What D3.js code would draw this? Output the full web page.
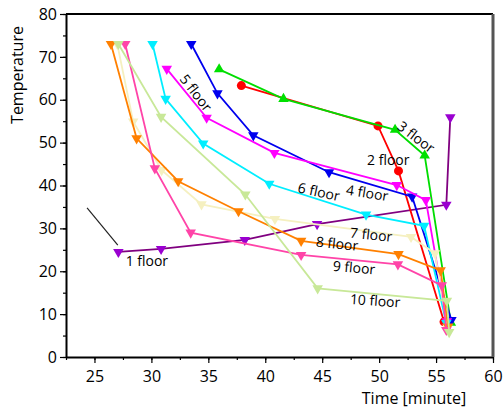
<!DOCTYPE html>
<html>
<head>
<meta charset="utf-8">
<script src="https://cdn.jsdelivr.net/npm/d3@7"></script>
<style>
  body { margin: 0; background: #fff; }
  text { font-family: "Open Sans", "Noto Sans", sans-serif; }
</style>
</head>
<body>
<div id="chart"></div>
<script>
// series data: time [minute] and temperature
var floor1Time = [27.1, 30.85, 38.2, 44.55, 55.9, 56.25];
var floor1Temp = [24.5, 25.2, 27.3, 31.0, 35.5, 55.9];
var floor2Time = [37.9, 49.9, 51.7, 55.7];
var floor2Temp = [63.3, 53.9, 43.4, 8.2];
var floor3Time = [35.95, 41.6, 51.4, 54.0, 56.3];
var floor3Temp = [67.1, 60.2, 53.0, 47.0, 8.0];
var floor4Time = [33.5, 35.8, 38.95, 45.6, 52.9, 56.35];
var floor4Temp = [73.0, 61.5, 51.7, 43.1, 37.4, 8.6];
var floor5Time = [31.35, 34.85, 40.8, 51.55, 54.1, 55.95];
var floor5Temp = [67.2, 55.8, 47.6, 40.1, 36.6, 8.3];
var floor6Time = [30.1, 31.25, 34.55, 40.35, 48.85, 53.95, 55.9];
var floor6Temp = [73.0, 60.2, 49.8, 40.4, 33.2, 30.6, 7.9];
var floor7Time = [27.0, 28.4, 30.9, 34.4, 40.85, 52.8, 54.9, 56.0];
var floor7Temp = [73.0, 54.9, 43.6, 35.6, 32.2, 28.0, 24.2, 6.9];
var floor8Time = [26.45, 28.7, 32.35, 37.65, 43.15, 51.7, 55.4, 56.05];
var floor8Temp = [73.0, 51.0, 41.0, 34.0, 27.1, 24.0, 20.2, 7.1];
var floor9Time = [27.7, 30.3, 33.45, 43.15, 51.65, 55.5, 55.9];
var floor9Temp = [73.0, 44.0, 29.0, 23.8, 21.6, 16.7, 6.3];
var floor10Time = [27.1, 30.85, 38.25, 44.6, 55.95, 56.15];
var floor10Temp = [73.0, 56.0, 37.9, 16.0, 13.1, 5.8];

var seriesNames = ["1 floor", "2 floor", "3 floor", "4 floor", "5 floor",
                   "6 floor", "7 floor", "8 floor", "9 floor", "10 floor"];
var seriesTimes = [floor1Time, floor2Time, floor3Time, floor4Time, floor5Time,
                   floor6Time, floor7Time, floor8Time, floor9Time, floor10Time];
var seriesTemps = [floor1Temp, floor2Temp, floor3Temp, floor4Temp, floor5Temp,
                   floor6Temp, floor7Temp, floor8Temp, floor9Temp, floor10Temp];
var lineColors = ["#800080", "#ff0000", "#00dd00", "#0000ee", "#ff00ff",
                  "#00eeff", "#f5f0c0", "#ff8000", "#ff44a8", "#c8e898"];
var markColors = ["#9a00d0", "#ff0000", "#00e000", "#0000ee", "#ff00ff",
                  "#00eeff", "#f5f0c0", "#ff8000", "#ff44a8", "#c8e898"];
var markShapes = ["down", "circle", "up", "down", "down",
                  "down", "down", "down", "down", "down"];

// in-chart labels: position in data units, rotation in degrees
var labelTime = [29.6, 50.8, 53.25, 48.95, 33.9, 44.7, 49.3, 46.3, 47.8, 49.65];
var labelTemp = [22.3, 45.9, 51.3, 38.25, 61.6, 38.5, 28.5, 26.4, 20.8, 13.1];
var labelAngle = [0, 0, 37, 9, 52, 12, 6, 6, 5, 4];

// the little black pointer line next to the 1 floor curve
var pointerTime = [24.35, 27.05];
var pointerTemp = [34.8, 26.1];

var xTicks = [25, 30, 35, 40, 45, 50, 55, 60];
var yTicks = [0, 10, 20, 30, 40, 50, 60, 70, 80];

var svgWidth = 504;
var svgHeight = 410;
var margin = { top: 14, right: 11, bottom: 53, left: 66 };
var chartWidth = svgWidth - margin.left - margin.right;
var chartHeight = svgHeight - margin.top - margin.bottom;

var svg = d3.select("#chart")
    .append("svg")
    .attr("width", svgWidth)
    .attr("height", svgHeight);

var chartGroup = svg.append("g")
    .attr("transform", `translate(${margin.left}, ${margin.top})`);

var xScale = d3.scaleLinear().domain([22.5, 60]).range([0, chartWidth]);
var yScale = d3.scaleLinear().domain([0, 80]).range([chartHeight, 0]);

// minor ticks first, then major axes with labels
chartGroup.append("g")
    .attr("transform", `translate(0, ${chartHeight})`)
    .call(d3.axisBottom(xScale).tickValues(d3.range(22.5, 60.1, 2.5)).tickSize(3).tickFormat(""))
    .call(g => g.select(".domain").remove());
chartGroup.append("g")
    .call(d3.axisLeft(yScale).tickValues(d3.range(0, 80.1, 5)).tickSize(3).tickFormat(""))
    .call(g => g.select(".domain").remove());

var xAxis = chartGroup.append("g")
    .attr("transform", `translate(0, ${chartHeight})`)
    .call(d3.axisBottom(xScale).tickValues(xTicks).tickSize(6).tickSizeOuter(0).tickPadding(8));
var yAxis = chartGroup.append("g")
    .call(d3.axisLeft(yScale).tickValues(yTicks).tickSize(6).tickSizeOuter(0).tickPadding(3));

chartGroup.selectAll(".tick line").attr("stroke", "#000").attr("stroke-width", 1.2);
[xAxis, yAxis].forEach(function (ax) {
    ax.select(".domain").attr("stroke", "#000").attr("stroke-width", 2);
    ax.selectAll("text").attr("font-size", "16px").attr("fill", "#000");
});

// frame top and right
chartGroup.append("line")
    .attr("x1", 0).attr("x2", chartWidth).attr("y1", 0).attr("y2", 0)
    .attr("stroke", "#000").attr("stroke-width", 2);
chartGroup.append("line")
    .attr("x1", chartWidth).attr("x2", chartWidth).attr("y1", 0).attr("y2", chartHeight)
    .attr("stroke", "#555").attr("stroke-width", 3);

// axis titles
svg.append("text")
    .attr("transform", "translate(23, 75) rotate(-90)")
    .attr("text-anchor", "middle")
    .attr("font-size", "16px")
    .text("Temperature");
svg.append("text")
    .attr("x", 414)
    .attr("y", 404)
    .attr("text-anchor", "middle")
    .attr("font-size", "16px")
    .text("Time [minute]");

var line = d3.line()
    .x(d => xScale(d[0]))
    .y(d => yScale(d[1]));

var triangle = d3.symbol().type(d3.symbolTriangle).size(48);

seriesNames.forEach(function (name, i) {
    var pts = seriesTimes[i].map((t, j) => [t, seriesTemps[i][j]]);
    var g = chartGroup.append("g").attr("class", "series");

    g.append("path")
        .datum(pts)
        .attr("fill", "none")
        .attr("stroke", lineColors[i])
        .attr("stroke-width", 1.8)
        .attr("d", line);

    if (markShapes[i] === "circle") {
        g.selectAll("circle").data(pts).enter()
            .append("circle")
            .attr("cx", d => xScale(d[0]))
            .attr("cy", d => yScale(d[1]))
            .attr("r", 4.5)
            .attr("fill", markColors[i]);
    } else {
        var rot = markShapes[i] === "down" ? 180 : 0;
        g.selectAll("path.mark").data(pts).enter()
            .append("path")
            .attr("class", "mark")
            .attr("d", triangle)
            .attr("fill", markColors[i])
            .attr("transform", d => `translate(${xScale(d[0])}, ${yScale(d[1])}) rotate(${rot})`);
    }
});

// pointer line
chartGroup.append("path")
    .datum(pointerTime.map((t, j) => [t, pointerTemp[j]]))
    .attr("fill", "none")
    .attr("stroke", "#222")
    .attr("stroke-width", 1.2)
    .attr("d", line);

// floor labels
seriesNames.forEach(function (name, i) {
    chartGroup.append("text")
        .attr("transform", `translate(${xScale(labelTime[i])}, ${yScale(labelTemp[i])}) rotate(${labelAngle[i]})`)
        .attr("text-anchor", "middle")
        .attr("dy", "0.35em")
        .attr("font-size", "14px")
        .attr("fill", "#000")
        .text(name);
});
</script>
</body>
</html>
